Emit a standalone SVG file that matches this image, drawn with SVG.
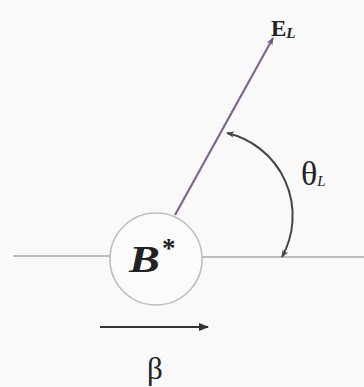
<svg xmlns="http://www.w3.org/2000/svg" width="364" height="387" viewBox="0 0 364 387">
<style>
.axis{stroke:#a8a8a8;stroke-width:1.6;fill:none}
.txt{font-family:"Liberation Serif","DejaVu Serif",serif;fill:#222}
</style>
<defs>
<marker id="pa" viewBox="0 0 10 10" refX="9" refY="5" markerWidth="8" markerHeight="8" markerUnits="userSpaceOnUse" orient="auto"><path d="M0,1 L10,5 L0,9 L3,5 Z" fill="#6f5585"/></marker>
<marker id="da" viewBox="0 0 10 10" refX="9" refY="5" markerWidth="8" markerHeight="8" markerUnits="userSpaceOnUse" orient="auto-start-reverse"><path d="M0,1 L10,5 L0,9 L3,5 Z" fill="#444"/></marker>
<marker id="ba" viewBox="0 0 10 10" refX="9" refY="5" markerWidth="12" markerHeight="10" markerUnits="userSpaceOnUse" orient="auto"><path d="M0,1 L10,5 L0,9 Z" fill="#333"/></marker>
</defs>
<rect width="364" height="387" fill="#f9f9f9"/>
<g id="connectors">
<path class="axis" d="M13,256 H110 M202,257 H364"/>
<path d="M175,215 L273,38" stroke="#7f6496" stroke-width="2.2" fill="none" marker-end="url(#pa)"/>
<path d="M227,133 A85,85 0 0 1 282,257" stroke="#444" stroke-width="2" fill="none" marker-start="url(#da)" marker-end="url(#da)"/>
<path d="M100,327 H208" stroke="#333" stroke-width="2.2" fill="none" marker-end="url(#ba)"/>
</g>
<g id="node-B">
<circle cx="156" cy="259" r="46" fill="#fbfbfb" stroke="#bdbdbd" stroke-width="1.6"/>
<text class="txt" x="0" y="0" font-size="37" font-weight="bold" font-style="italic" fill="#2a2a2a" transform="translate(129,272) scale(1.25,1)">B</text>
<text class="txt" x="162" y="257" font-size="27" font-weight="bold">*</text>
</g>
<g id="label-E">
<text class="txt" x="271" y="36" font-size="23" font-weight="bold">E<tspan font-size="15" font-style="italic" dy="2">L</tspan></text>
</g>
<g id="label-theta">
<text class="txt" x="301" y="185" font-size="34">θ<tspan font-size="15" font-style="italic" dy="1">L</tspan></text>
</g>
<g id="label-beta">
<text class="txt" x="155" y="379" font-size="31" text-anchor="middle">β</text>
</g>
</svg>
